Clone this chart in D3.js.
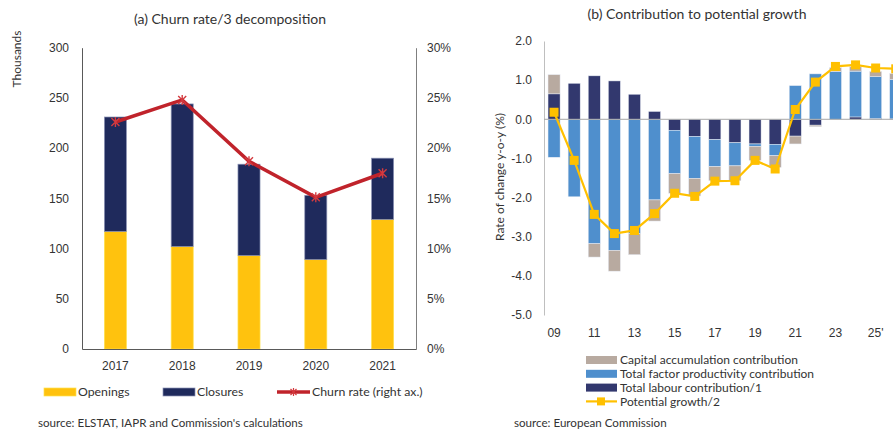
<!DOCTYPE html>
<html>
<head>
<meta charset="utf-8">
<script src="https://cdn.jsdelivr.net/npm/d3@7"></script>
<style>
  body { margin: 0; background: #fff; }
  svg { font-family: Lato, "Open Sans", sans-serif; fill: #262626; }
  text { fill: #333; }
</style>
</head>
<body>
<div id="chart"></div>
<script>
// ---- panel (a) data ----
var years = ["2017", "2018", "2019", "2020", "2021"];
var openings = [117, 102, 93, 89, 129];
var closures = [114, 142, 91, 64, 61];
var churnRate = [0.226, 0.248, 0.187, 0.151, 0.175];
var leftTicks = [0, 50, 100, 150, 200, 250, 300];
var rightTicks = [0, 0.05, 0.10, 0.15, 0.20, 0.25, 0.30];

// ---- panel (b) data ----
var pgYears = [2009, 2010, 2011, 2012, 2013, 2014, 2015, 2016, 2017, 2018, 2019, 2020, 2021, 2022, 2023, 2024, 2025, 2026];
var labour = [0.65, 0.92, 1.11, 0.98, 0.64, 0.20, -0.28, -0.44, -0.52, -0.60, -0.63, -0.64, -0.43, -0.15, 0.00, 0.06, 0.02, 0.01];
var tfp = [-0.97, -1.98, -3.18, -3.35, -2.92, -2.06, -1.11, -1.07, -0.69, -0.59, -0.06, -0.29, 0.86, 1.16, 1.22, 1.17, 1.07, 1.01];
var capital = [0.49, 0.00, -0.34, -0.53, -0.54, -0.54, -0.50, -0.45, -0.36, -0.38, -0.36, -0.30, -0.20, -0.04, 0.10, 0.11, 0.13, 0.15];
var potential = [0.18, -1.05, -2.43, -2.92, -2.84, -2.41, -1.89, -1.97, -1.58, -1.57, -1.05, -1.27, 0.25, 0.95, 1.35, 1.39, 1.31, 1.29];
var pgTickYears = [2009, 2011, 2013, 2015, 2017, 2019, 2021, 2023, 2025];
var pgTickLabels = ["09", "11", "13", "15", "17", "19", "21", "23", "25'"];
var pgYTicks = [2, 1, 0, -1, -2, -3, -4, -5];

var width = 893, height = 433;

var svg = d3.select("#chart").append("svg")
    .attr("width", width)
    .attr("height", height);

// ================= panel (a) =================
var a = svg.append("g").attr("class", "panel-a");

var xA = d3.scaleBand()
    .domain(years)
    .range([82, 416])
    .paddingInner(0.67)
    .paddingOuter(0.335);

var yA = d3.scaleLinear().domain([0, 300]).range([349, 47.7]);
var yA2 = d3.scaleLinear().domain([0, 0.30]).range([349, 47.7]);

a.append("text")
    .attr("x", 230).attr("y", 24)
    .attr("text-anchor", "middle")
    .style("font-size", "14px")
    .text("(a) Churn rate/3 decomposition");

a.append("text")
    .attr("transform", "translate(21,59) rotate(-90)")
    .attr("text-anchor", "middle")
    .style("font-size", "12px")
    .text("Thousands");

var tableA = years.map(function(y, i) {
    return { year: y, openings: openings[i], closures: closures[i], churn: churnRate[i] };
});

var stackA = d3.stack().keys(["openings", "closures"])(tableA);
var colorsA = { openings: "#FFC20E", closures: "#1F2A5C" };
var strokeA = { openings: "#FFE14D", closures: "#8C93B5" };

a.selectAll("g.series")
    .data(stackA)
  .enter().append("g")
    .attr("class", "series")
    .attr("fill", function(d) { return colorsA[d.key]; })
    .attr("stroke", function(d) { return strokeA[d.key]; })
    .attr("stroke-width", 0.7)
  .selectAll("rect")
    .data(function(d) { return d; })
  .enter().append("rect")
    .attr("x", function(d) { return xA(d.data.year); })
    .attr("width", xA.bandwidth())
    .attr("y", function(d) { return yA(d[1]); })
    .attr("height", function(d) { return yA(d[0]) - yA(d[1]); });

// axes
var axL = a.append("g")
    .attr("transform", "translate(82,0)")
    .call(d3.axisLeft(yA).tickValues(leftTicks).tickSize(0).tickPadding(13).tickSizeOuter(0));
axL.select(".domain").attr("stroke", "#595959");
axL.selectAll("text").style("font-size", "12px").attr("fill", "#404040");

var axR = a.append("g")
    .attr("transform", "translate(416,0)")
    .call(d3.axisRight(yA2).tickValues(rightTicks).tickSize(0).tickPadding(11).tickSizeOuter(0)
        .tickFormat(d3.format(".0%")));
axR.select(".domain").attr("stroke", "#7f7f7f");
axR.selectAll("text").style("font-size", "12px").attr("fill", "#404040");

var axB = a.append("g")
    .attr("transform", "translate(0,349)")
    .call(d3.axisBottom(xA).tickSize(0).tickPadding(12).tickSizeOuter(0));
axB.select(".domain").attr("stroke", "#595959");
axB.selectAll("text").style("font-size", "12px").attr("fill", "#404040");

// churn line
var churnLine = d3.line()
    .x(function(d) { return xA(d.year) + xA.bandwidth() / 2; })
    .y(function(d) { return yA2(d.churn); });

a.append("path")
    .datum(tableA)
    .attr("fill", "none")
    .attr("stroke", "#C0232B")
    .attr("stroke-width", 3.5)
    .attr("d", churnLine);

var starPath = "M-4,-4L4,4M-4,4L4,-4M0,-5L0,5";
a.selectAll("path.star")
    .data(tableA)
  .enter().append("path")
    .attr("class", "star")
    .attr("d", starPath)
    .attr("transform", function(d) {
        return "translate(" + (xA(d.year) + xA.bandwidth() / 2) + "," + yA2(d.churn) + ")";
    })
    .attr("stroke", "#D33A3F")
    .attr("stroke-width", 1.4)
    .attr("fill", "none");

// legend (a)
var legA = a.append("g").attr("class", "legend");
legA.append("rect").attr("x", 44).attr("y", 388).attr("width", 32).attr("height", 8)
    .attr("fill", colorsA.openings).attr("stroke", strokeA.openings).attr("stroke-width", 0.7);
legA.append("text").attr("x", 78).attr("y", 396).style("font-size", "12.3px").text("Openings");
legA.append("rect").attr("x", 163).attr("y", 388).attr("width", 32).attr("height", 8)
    .attr("fill", colorsA.closures).attr("stroke", strokeA.closures).attr("stroke-width", 0.7);
legA.append("text").attr("x", 197).attr("y", 396).style("font-size", "12.3px").text("Closures");
legA.append("line").attr("x1", 277).attr("x2", 310).attr("y1", 392).attr("y2", 392)
    .attr("stroke", "#C0232B").attr("stroke-width", 3.5);
legA.append("path").attr("d", "M-3,-3L3,3M-3,3L3,-3M0,-4L0,4")
    .attr("transform", "translate(293.5,392)")
    .attr("stroke", "#D33A3F").attr("stroke-width", 1.2).attr("fill", "none");
legA.append("text").attr("x", 312).attr("y", 396).style("font-size", "12.3px").text("Churn rate (right ax.)");

a.append("text").attr("x", 38).attr("y", 427).style("font-size", "11.6px")
    .text("source: ELSTAT, IAPR and Commission's calculations");

// ================= panel (b) =================
var b = svg.append("g").attr("class", "panel-b");

var xB = d3.scaleBand()
    .domain(pgYears)
    .range([544, 544 + 20.1 * pgYears.length])
    .paddingInner(0.4)
    .paddingOuter(0.2);

var yB = d3.scaleLinear().domain([-5, 2]).range([315, 41]);

b.append("text")
    .attr("x", 697).attr("y", 18.5)
    .attr("text-anchor", "middle")
    .style("font-size", "14px")
    .text("(b) Contribution to potential growth");

b.append("text")
    .attr("transform", "translate(504,177) rotate(-90)")
    .attr("text-anchor", "middle")
    .style("font-size", "12px")
    .text("Rate of change y-o-y (%)");

var tableB = pgYears.map(function(y, i) {
    return { year: y, labour: labour[i], tfp: tfp[i], capital: capital[i], potential: potential[i] };
});

var stackB = d3.stack()
    .keys(["labour", "tfp", "capital"])
    .offset(d3.stackOffsetDiverging)(tableB);

var colorsB = { labour: "#32386E", tfp: "#4F8FCD", capital: "#B8AAA0" };

b.selectAll("g.series")
    .data(stackB)
  .enter().append("g")
    .attr("class", "series")
    .attr("fill", function(d) { return colorsB[d.key]; })
    .attr("stroke", "#E8ECF4")
    .attr("stroke-width", 0.5)
  .selectAll("rect")
    .data(function(d) { return d; })
  .enter().append("rect")
    .attr("x", function(d) { return xB(d.data.year); })
    .attr("width", xB.bandwidth())
    .attr("y", function(d) { return yB(Math.max(d[0], d[1])); })
    .attr("height", function(d) { return Math.abs(yB(d[0]) - yB(d[1])); });

// y axis
var ayB = b.append("g")
    .attr("transform", "translate(544,0)")
    .call(d3.axisLeft(yB).tickValues(pgYTicks).tickSize(0).tickPadding(12).tickSizeOuter(0)
        .tickFormat(function(d) { return d.toFixed(1); }));
ayB.select(".domain").attr("stroke", "#BFBFBF");
ayB.selectAll("text").style("font-size", "12px").attr("fill", "#404040");

// zero line
b.append("line")
    .attr("x1", 544).attr("x2", width)
    .attr("y1", yB(0)).attr("y2", yB(0))
    .attr("stroke", "#A6A6A6").attr("stroke-width", 1);

// x labels
var axBB = b.append("g")
    .attr("transform", "translate(0,315)")
    .call(d3.axisBottom(xB).tickValues(pgTickYears).tickSize(0).tickPadding(13)
        .tickFormat(function(d, i) { return pgTickLabels[i]; }));
axBB.select(".domain").remove();
axBB.selectAll("text").style("font-size", "12px").attr("fill", "#404040");

// potential growth line
var pgLine = d3.line()
    .x(function(d) { return xB(d.year) + xB.bandwidth() / 2; })
    .y(function(d) { return yB(d.potential); });

b.append("path")
    .datum(tableB)
    .attr("fill", "none")
    .attr("stroke", "#FFC000")
    .attr("stroke-width", 2.2)
    .attr("d", pgLine);

b.selectAll("rect.marker")
    .data(tableB)
  .enter().append("rect")
    .attr("class", "marker")
    .attr("x", function(d) { return xB(d.year) + xB.bandwidth() / 2 - 4.5; })
    .attr("y", function(d) { return yB(d.potential) - 4.5; })
    .attr("width", 9).attr("height", 9)
    .attr("fill", "#FFC000");

// legend (b)
var legItems = [
    { key: "capital", label: "Capital accumulation contribution" },
    { key: "tfp", label: "Total factor productivity contribution" },
    { key: "labour", label: "Total labour contribution/1" },
    { key: "potential", label: "Potential growth/2" }
];
var legB = b.append("g").attr("class", "legend");
legItems.forEach(function(item, i) {
    var cy = 360 + i * 13.8;
    if (item.key === "potential") {
        legB.append("line").attr("x1", 586).attr("x2", 617).attr("y1", cy).attr("y2", cy)
            .attr("stroke", "#FFC000").attr("stroke-width", 2.2);
        legB.append("rect").attr("x", 597).attr("y", cy - 4).attr("width", 8).attr("height", 8)
            .attr("fill", "#FFC000");
    } else {
        legB.append("rect").attr("x", 586).attr("y", cy - 4).attr("width", 31).attr("height", 8)
            .attr("fill", colorsB[item.key]);
    }
    legB.append("text").attr("x", 620).attr("y", cy + 4.2).style("font-size", "12px").text(item.label);
});

b.append("text").attr("x", 514).attr("y", 427).style("font-size", "11.6px")
    .text("source: European Commission");
</script>
</body>
</html>
